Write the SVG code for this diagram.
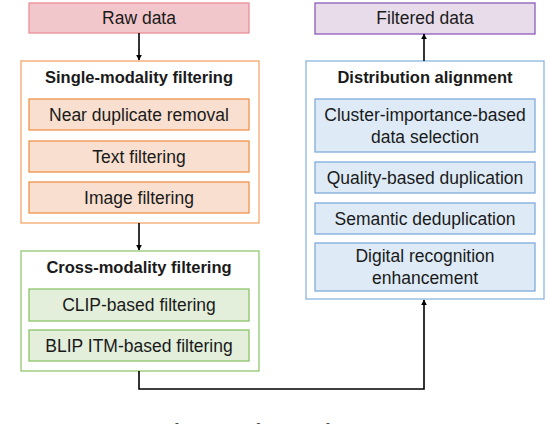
<svg xmlns="http://www.w3.org/2000/svg" width="548" height="424" viewBox="0 0 548 424">
<style>
text{font-family:"Liberation Sans",Arial,sans-serif;font-size:17.5px;fill:#1a1a1a;text-anchor:middle}
.t{font-weight:bold;font-size:16.5px}
.cap{font-family:"Liberation Serif","Times New Roman",serif;font-size:20px;fill:#444;text-anchor:start}
.c{fill:none;stroke:#000;stroke-width:1.6}
</style>
<defs>
<marker id="ah" viewBox="0 0 10 10" refX="9" refY="5" markerWidth="6" markerHeight="6" orient="auto-start-reverse" markerUnits="userSpaceOnUse">
<path d="M0,0 L10,5 L0,10 z" fill="#000"/>
</marker>
</defs>
<g id="raw"><rect x="29" y="3" width="220" height="30" fill="#f2c7cb" stroke="#ea8f98" stroke-width="1.3"/><text x="139" y="24">Raw data</text></g>
<g id="single"><rect x="21" y="61" width="238" height="162" fill="#fff" stroke="#f4a66c" stroke-width="1.3"/><text class="t" x="139" y="83">Single-modality filtering</text></g>
<g id="near"><rect x="29" y="99" width="220" height="31" fill="#f8dfcf" stroke="#ef924c" stroke-width="1.3"/><text x="139" y="121">Near duplicate removal</text></g>
<g id="textf"><rect x="29" y="141" width="220" height="31" fill="#f8dfcf" stroke="#ef924c" stroke-width="1.3"/><text x="139" y="163">Text filtering</text></g>
<g id="imagef"><rect x="29" y="182" width="220" height="31" fill="#f8dfcf" stroke="#ef924c" stroke-width="1.3"/><text x="139" y="204">Image filtering</text></g>
<g id="cross"><rect x="21" y="251" width="238" height="120" fill="#fff" stroke="#93c873" stroke-width="1.3"/><text class="t" x="139" y="273">Cross-modality filtering</text></g>
<g id="clip"><rect x="29" y="289" width="220" height="32" fill="#e3efdb" stroke="#8cc26a" stroke-width="1.3"/><text x="139" y="311">CLIP-based filtering</text></g>
<g id="blip"><rect x="29" y="330" width="220" height="31" fill="#e3efdb" stroke="#8cc26a" stroke-width="1.3"/><text x="139" y="352">BLIP ITM-based filtering</text></g>
<g id="filtered"><rect x="315" y="3" width="220" height="31" fill="#e8dcea" stroke="#8c5cb8" stroke-width="1.3"/><text x="425" y="24">Filtered data</text></g>
<g id="dist"><rect x="306" y="61" width="238" height="238" fill="#fff" stroke="#8db6e0" stroke-width="1.3"/><text class="t" x="425" y="83">Distribution alignment</text></g>
<g id="cluster"><rect x="315" y="99" width="220" height="53" fill="#deebf7" stroke="#7eabdb" stroke-width="1.3"/><text x="425" y="121">Cluster-importance-based</text><text x="425" y="143">data selection</text></g>
<g id="quality"><rect x="315" y="162" width="220" height="31" fill="#deebf7" stroke="#7eabdb" stroke-width="1.3"/><text x="425" y="184">Quality-based duplication</text></g>
<g id="semantic"><rect x="315" y="203" width="220" height="31" fill="#deebf7" stroke="#7eabdb" stroke-width="1.3"/><text x="425" y="225">Semantic deduplication</text></g>
<g id="digital"><rect x="315" y="243" width="220" height="48" fill="#deebf7" stroke="#7eabdb" stroke-width="1.3"/><text x="425" y="262">Digital recognition</text><text x="425" y="284">enhancement</text></g>
<g id="connectors">
<path class="c" d="M139,33 V60" marker-end="url(#ah)"/>
<path class="c" d="M139,223 V250" marker-end="url(#ah)"/>
<path class="c" d="M139,371 V389 H424 V300" marker-end="url(#ah)"/>
<path class="c" d="M424,61 V34" marker-end="url(#ah)"/>
</g>
<text class="cap" x="0" y="437.5">Figure 1: Overview of our data filtering framework.</text>
</svg>
